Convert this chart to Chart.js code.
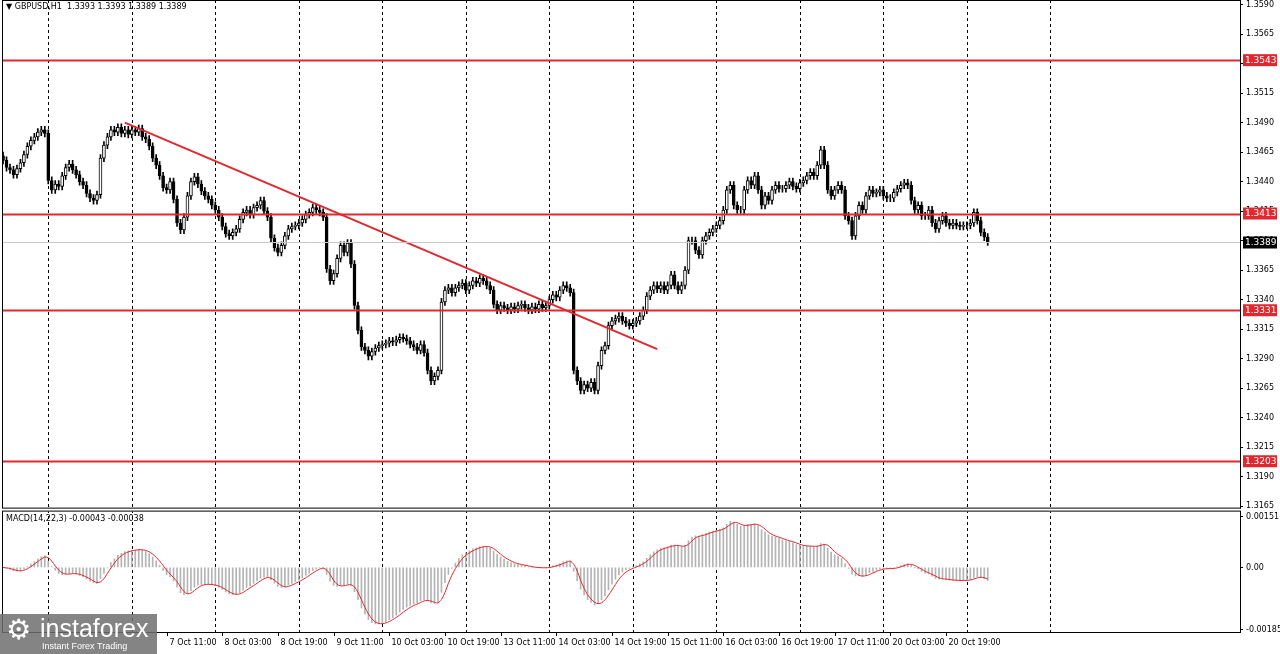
<!DOCTYPE html>
<html>
<head>
<meta charset="utf-8">
<style>
  html, body { margin: 0; padding: 0; background: #fff; }
  #wrap { width: 1280px; height: 654px; position: relative; }
</style>
</head>
<body>
<div id="wrap"><canvas id="chart" width="1280" height="654"></canvas></div>
<script src="https://cdn.jsdelivr.net/npm/chart.js"></script>
<script>
  // hourly closes of GBPUSD H1, hour 0 = first visible bar
  const closes = [
    1.3458,1.3452,1.3450,1.3446,1.3451,1.3456,1.3463,1.3470,1.3475,1.3478,1.3482,1.3484,1.3481,
    1.3441,1.3433,1.3438,1.3436,1.3445,1.3452,1.3455,1.3450,1.3446,1.3440,1.3437,1.3430,1.3426,1.3424,1.3429,1.3460,1.3471,1.3478,1.3484,1.3482,1.3486,1.3481,1.3484,1.3480,
    1.3484,1.3482,1.3485,1.3478,1.3476,1.3470,1.3460,1.3454,1.3445,1.3435,1.3433,1.3440,1.3425,1.3405,1.3399,1.3410,1.3428,1.3440,1.3444,1.3438,1.3432,1.3428,1.3425,1.3420,
    1.3416,1.3410,1.3402,1.3396,1.3394,1.3397,1.3400,1.3408,1.3414,1.3416,1.3412,1.3418,1.3420,1.3424,1.3415,1.3410,1.3392,1.3384,1.3380,1.3386,1.3394,1.3400,1.3402,1.3403,
    1.3405,1.3408,1.3412,1.3414,1.3418,1.3416,1.3414,1.3410,1.3366,1.3356,1.3362,1.3375,1.3386,1.3380,1.3388,1.3370,1.3335,1.3314,1.3300,1.3297,1.3292,1.3296,1.3299,1.3301,
    1.3302,1.3303,1.3305,1.3304,1.3306,1.3308,1.3307,1.3305,1.3302,1.3300,1.3297,1.3302,1.3295,1.3280,1.3271,1.3275,1.3280,1.3338,1.3348,1.3350,1.3346,1.3350,1.3352,1.3354,
    1.3348,1.3352,1.3356,1.3354,1.3358,1.3356,1.3352,1.3348,1.3336,1.3331,1.3335,1.3333,1.3331,1.3334,1.3332,1.3335,1.3336,1.3333,1.3331,1.3334,1.3332,1.3336,1.3333,1.3335,
    1.3340,1.3344,1.3342,1.3348,1.3352,1.3350,1.3346,1.3280,1.3271,1.3263,1.3268,1.3265,1.3270,1.3263,1.3284,1.3297,1.3301,1.3318,1.3322,1.3324,1.3326,1.3322,1.3320,1.3318,
    1.3320,1.3322,1.3326,1.3331,1.3343,1.3348,1.3352,1.3349,1.3352,1.3348,1.3352,1.3361,1.3352,1.3348,1.3352,1.3365,1.3390,1.3390,1.3382,1.3378,1.3390,1.3394,1.3397,1.3400,
    1.3403,1.3407,1.3416,1.3433,1.3437,1.3420,1.3416,1.3416,1.3433,1.3441,1.3437,1.3445,1.3433,1.3420,1.3428,1.3424,1.3433,1.3437,1.3434,1.3434,1.3437,1.3440,1.3436,1.3434,
    1.3439,1.3441,1.3445,1.3448,1.3445,1.3454,1.3467,1.3454,1.3433,1.3428,1.3433,1.3437,1.3433,1.3411,1.3407,1.3394,1.3411,1.3420,1.3416,1.3428,1.3433,1.3430,1.3431,1.3433,
    1.3428,1.3426,1.3426,1.3431,1.3434,1.3437,1.3439,1.3437,1.3424,1.3416,1.3420,1.3411,1.3411,1.3416,1.3405,1.3400,1.3407,1.3411,1.3405,1.3403,1.3405,1.3403,1.3402,1.3403,
    1.3403,1.3405,1.3414,1.3407,1.3397,1.3393,1.3389
  ];
  const firstOpen = 1.3462;
  const wickPad = 0.0003;

  const priceTicks = [1.3590,1.3565,1.3540,1.3515,1.3490,1.3465,1.3440,1.3415,1.3390,1.3365,1.3340,1.3315,1.3290,1.3265,1.3240,1.3215,1.3190,1.3165];
  const levels = [1.3543, 1.3413, 1.3331, 1.3203];
  const lastPrice = 1.3389;
  const trendLine = [{ x: 35, y: 1.3490 }, { x: 188, y: 1.3298 }];
  const macdTicks = [0.00151, 0, -0.00185];
  const macdTickLabels = ['0.00151', '0.00', '-0.00185'];

  const dayHours = [13,37,61,85,109,133,157,181,205,229,253,277,301];
  const timeLabels = ['7 Oct 11:00','8 Oct 03:00','8 Oct 19:00','9 Oct 11:00','10 Oct 03:00','10 Oct 19:00','13 Oct 11:00','14 Oct 03:00','14 Oct 19:00','15 Oct 11:00','16 Oct 03:00','16 Oct 19:00','17 Oct 11:00','20 Oct 03:00','20 Oct 19:00'];
  const timeLabelHours = [47,63,79,95,111,127,143,159,175,191,207,223,239,255,271];

  // candles
  const bodies = [], wicks = [], bodyFill = [];
  closes.forEach((c, i) => {
    const o = i === 0 ? firstOpen : closes[i - 1];
    bodies.push({ x: i, y: [o, c] });
    wicks.push({ x: i, y: [Math.min(o, c) - wickPad, Math.max(o, c) + wickPad] });
    bodyFill.push(c >= o ? '#ffffff' : '#000000');
  });

  // MACD(14,22,3): main as histogram, SMA signal as line
  function ema(src, n) {
    const k = 2 / (n + 1), out = [];
    src.forEach((v, i) => out.push(i === 0 ? v : v * k + out[i - 1] * (1 - k)));
    return out;
  }
  const fast = ema(closes, 14), slow = ema(closes, 22);
  const macd = closes.map((c, i) => fast[i] - slow[i]);
  const signal = macd.map((v, i) => {
    const s = macd.slice(Math.max(0, i - 2), i + 1);
    return s.reduce((a, b) => a + b, 0) / s.length;
  });

  const dayGrid = {
    id: 'dayGrid',
    beforeDatasetsDraw(chart) {
      const { ctx, chartArea: a, scales: { x } } = chart;
      ctx.save();
      ctx.strokeStyle = '#000'; ctx.lineWidth = 1; ctx.setLineDash([3, 3]);
      dayHours.forEach(h => {
        const px = Math.round(x.getPixelForValue(h)) + 0.5;
        ctx.beginPath(); ctx.moveTo(px, a.top); ctx.lineTo(px, a.bottom); ctx.stroke();
      });
      ctx.restore();
    }
  };

  const overlay = {
    id: 'overlay',
    afterDatasetsDraw(chart) {
      const { ctx, chartArea: a, scales } = chart;
      const y = scales.y, m = scales.m, x = scales.x;
      ctx.save();
      // level lines
      ctx.strokeStyle = '#e0282e'; ctx.lineWidth = 2;
      levels.forEach(l => {
        const py = Math.round(y.getPixelForValue(l)) + 0.5;
        ctx.beginPath(); ctx.moveTo(a.left, py); ctx.lineTo(a.right, py); ctx.stroke();
      });
      ctx.strokeStyle = '#c8c8c8'; ctx.lineWidth = 1;
      const lp = Math.round(y.getPixelForValue(lastPrice)) + 0.5;
      ctx.beginPath(); ctx.moveTo(a.left, lp); ctx.lineTo(a.right, lp); ctx.stroke();
      // panel separator
      ctx.fillStyle = '#fff';
      ctx.fillRect(0, y.bottom - 1, 1280, 3);
      ctx.strokeStyle = '#000'; ctx.lineWidth = 1;
      ctx.strokeRect(a.left + 0.5, a.top + 0.5, a.right - a.left, y.bottom - a.top - 2);
      ctx.strokeRect(a.left + 0.5, m.top + 1.5, a.right - a.left, m.bottom - m.top - 1);
      // axis price boxes
      ctx.font = '9px "DejaVu Sans"'; ctx.textBaseline = 'middle';
      levels.forEach(l => {
        const py = y.getPixelForValue(l);
        ctx.fillStyle = '#e0282e'; ctx.fillRect(a.right + 3, py - 6, 34, 12);
        ctx.fillStyle = '#fff'; ctx.fillText(l.toFixed(4), a.right + 5, py);
      });
      ctx.fillStyle = '#000'; ctx.fillRect(a.right + 3, lp - 6, 34, 12);
      ctx.fillStyle = '#fff'; ctx.fillText(lastPrice.toFixed(4), a.right + 5, lp);
      // titles
      ctx.fillStyle = '#000';
      ctx.font = '8px "DejaVu Sans"';
      ctx.fillText('\u25BC GBPUSD,H1  1.3393 1.3393 1.3389 1.3389', 6, a.top + 7);
      ctx.fillText('MACD(14,22,3) -0.00043 -0.00038', 6, m.top + 9);
      // time labels
      timeLabels.forEach((t, i) => {
        const px = Math.round(x.getPixelForValue(timeLabelHours[i])) + 0.5;
        ctx.fillText(t, px + 2, a.bottom + 11);
        ctx.beginPath(); ctx.moveTo(px, a.bottom); ctx.lineTo(px, a.bottom + 4); ctx.stroke();
      });
      // logo
      ctx.fillStyle = 'rgba(110,110,110,0.85)';
      ctx.fillRect(0, 614, 157, 40);
      ctx.fillStyle = '#fff';
      ctx.font = '28px "DejaVu Sans"';
      ctx.fillText('\u2699', 6, 632);
      ctx.font = '25px "Liberation Sans"';
      ctx.fillText('instaforex', 40, 630);
      ctx.font = '9px "Liberation Sans"';
      ctx.fillText('Instant Forex Trading', 42, 647);
      ctx.restore();
    }
  };

  new Chart(document.getElementById('chart'), {
    data: {
      datasets: [
        { type: 'bar', data: wicks, backgroundColor: '#000', barThickness: 1, grouped: false, yAxisID: 'y', order: 3 },
        { type: 'bar', data: bodies, backgroundColor: bodyFill, borderColor: '#000', borderWidth: 1, borderSkipped: false, barThickness: 3, grouped: false, yAxisID: 'y', order: 2 },
        { type: 'line', data: trendLine, borderColor: '#e0282e', borderWidth: 2, pointRadius: 0, yAxisID: 'y', order: 1 },
        { type: 'bar', data: macd.map((v, i) => ({ x: i, y: v })), backgroundColor: '#b4b4b4', barThickness: 1, grouped: false, yAxisID: 'm', order: 2 },
        { type: 'line', data: signal.map((v, i) => ({ x: i, y: v })), borderColor: '#e0282e', borderWidth: 1, pointRadius: 0, tension: 0.3, yAxisID: 'm', order: 1 }
      ]
    },
    options: {
      responsive: false,
      animation: false,
      layout: { padding: { left: 2, top: 0, bottom: 14, right: 0 } },
      plugins: { legend: { display: false }, tooltip: { enabled: false } },
      scales: {
        x: {
          type: 'linear', min: -0.3, max: 355.5, offset: false,
          ticks: { display: false },
          grid: { display: false },
          border: { display: false }
        },
        y: {
          position: 'right', stack: 'p', stackWeight: 508, offset: false,
          min: 1.3162, max: 1.3594,
          afterBuildTicks: s => { s.ticks = priceTicks.map(v => ({ value: v })); },
          afterFit: s => { s.width = 40; s.paddingTop = 0; s.paddingBottom = 0; },
          ticks: { color: '#000', font: { size: 8, family: 'DejaVu Sans', lineHeight: 0.5 }, padding: 3, callback: v => v.toFixed(4) },
          grid: { drawOnChartArea: false, tickLength: 3, color: '#000' },
          border: { color: '#000' }
        },
        m: {
          position: 'right', stack: 'p', stackWeight: 122, offset: false,
          min: -0.00192, max: 0.00172,
          afterBuildTicks: s => { s.ticks = macdTicks.map(v => ({ value: v })); },
          afterFit: s => { s.width = 40; s.paddingTop = 0; s.paddingBottom = 0; },
          ticks: { color: '#000', font: { size: 8, family: 'DejaVu Sans', lineHeight: 0.5 }, padding: 3, callback: (v, i) => macdTickLabels[i] },
          grid: { drawOnChartArea: false, tickLength: 3, color: '#000' },
          border: { color: '#000' }
        }
      }
    },
    plugins: [dayGrid, overlay]
  });
</script>
</body>
</html>
